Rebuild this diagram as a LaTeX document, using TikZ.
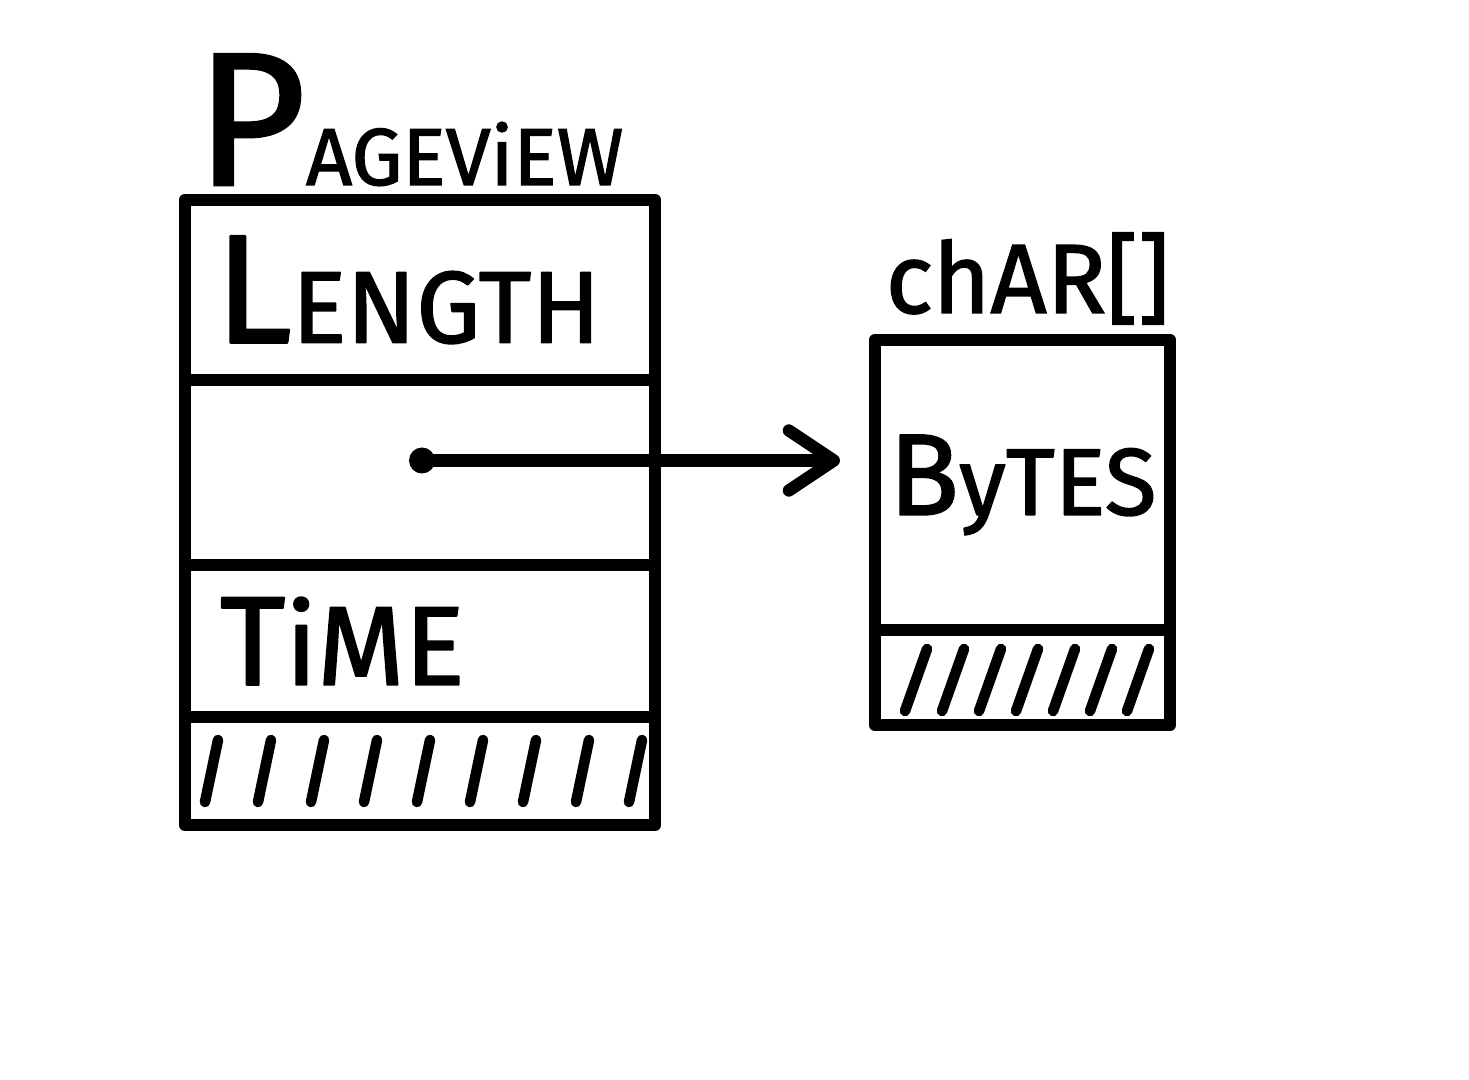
\documentclass[tikz,border=0pt]{standalone}
\usepackage{fontspec}
\setmainfont{Fira Sans}[RawFeature={embolden=1.5}]
\usepackage{tikz}
\usetikzlibrary{arrows.meta,positioning,calc}
\tikzstyle{field} = [rectangle, draw=black, line width=3.5pt, line join=round, inner sep=0pt, outer sep=0pt, minimum width=4.7cm]
\tikzstyle{title} = [inner sep=0pt]
\tikzstyle{arrow} = [line width=3.5pt, line cap=round, -{Straight Barb[length=4.5mm,width=6mm,round]}]
\tikzstyle{hatch} = [line width=3pt, line cap=round]
% big first letter, the rest smaller
\newcommand{\scword}[4]{{\fontsize{#1}{#1}\selectfont #3}{\fontsize{#2}{#2}\selectfont #4}}

\begin{document}
\begin{tikzpicture}
\useasboundingbox[fill=white] (0,0) rectangle (14.69,-10.80);
% Pageview record
\node[field, minimum height=1.8cm, text width=4.1cm, align=left] (mlen) at (4.20,-2.90) {\scword{44pt}{29pt}{L}{ENGTH}};
\node[field, minimum height=1.85cm, below=0pt of mlen] (mptr) {};
\node[field, minimum height=1.52cm, text width=4.0cm, align=left, below=0pt of mptr] (mtime) {\scword{36pt}{32pt}{T}{iME}};
\node[field, minimum height=1.08cm, below=0pt of mtime] (mpad) {};
\node[title, anchor=base west] (ptitle) at ($(mlen.north west)+(0.1,0.15)$) {\scword{54pt}{23pt}{P}{AGEViEW}};
% char array
\node[field, minimum width=2.95cm, minimum height=2.9cm] (cbytes) at (10.225,-4.85) {\scword{33pt}{27pt}{B}{yTES}};
\node[field, minimum width=2.95cm, minimum height=0.95cm, below=0pt of cbytes] (cpad) {};
\node[title, anchor=base west] (ctitle) at ($(cbytes.north west)+(0.1,0.27)$) {\fontsize{28pt}{28pt}\selectfont chAR[]};
% padding
\foreach \i in {0,...,8}
  \draw[hatch] ($(mpad.south west)+(0.2+0.53*\i,0.23)$) -- ++(0.13,0.62);
\foreach \i in {0,...,6}
  \draw[hatch] ($(cpad.south west)+(0.3+0.37*\i,0.14)$) -- ++(0.22,0.62);
% pointer
\coordinate (ptr) at ($(mptr.center)+(0.02,0.12)$);
\fill (ptr) circle (0.13);
\draw[arrow, shorten >=0.35cm] (ptr) -- (ptr -| cbytes.west);
\end{tikzpicture}
\end{document}
